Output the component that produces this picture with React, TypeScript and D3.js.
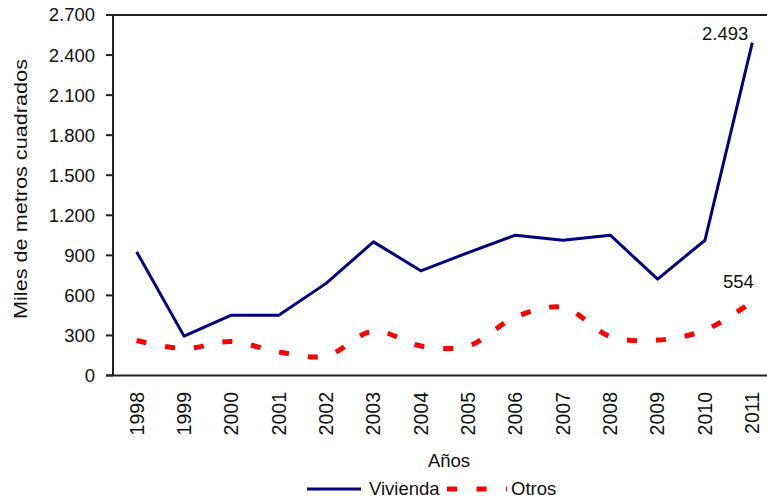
import React from "react";
import * as d3 from "d3";

const years = ["1998","1999","2000","2001","2002","2003","2004","2005","2006","2007","2008","2009","2010","2011"];
const vivienda = [926, 295, 452, 452, 690, 1001, 784, 920, 1051, 1013, 1051, 722, 1013, 2493];
const otros = [262, 202, 254, 176, 146, 333, 221, 221, 438, 510, 292, 265, 340, 554];
const yTicks = [0, 300, 600, 900, 1200, 1500, 1800, 2100, 2400, 2700];

const W = 767, H = 499;
const FONT = "'Liberation Sans', Arial, sans-serif";
const FS = 18.5;

const locale = d3.formatLocale({ decimal: ",", thousands: ".", grouping: [3], currency: ["", ""] });
const fmt = locale.format(",d");

export default function App() {
  const x = d3.scaleBand<string>().domain(years).range([113, 776]).padding(0);
  const cx = (y: string) => (x(y) as number) + x.bandwidth() / 2;
  const y = d3.scaleLinear().domain([0, 2700]).range([375.5, 15]);

  const vivLine = d3.line<number>().x((_, i) => cx(years[i])).y((d) => y(d));
  const otrLine = d3.line<number>().x((_, i) => cx(years[i])).y((d) => y(d)).curve(d3.curveCatmullRom.alpha(0.5));

  const lastI = years.length - 1;
  const axisColor = "#222";

  return (
    <svg width={W} height={H} style={{ position: "absolute", left: 0, top: 0, background: "#fff" }} fontFamily={FONT}>
      {/* plot frame */}
      <line x1={113} x2={W} y1={y(2700)} y2={y(2700)} stroke={axisColor} strokeWidth={2} />
      <line x1={113} x2={113} y1={y(2700)} y2={y(0)} stroke={axisColor} strokeWidth={2} />
      <line x1={106} x2={W} y1={y(0)} y2={y(0)} stroke={axisColor} strokeWidth={2} />
      {/* y ticks */}
      {yTicks.map((t) => (
        <g key={t}>
          <line x1={106} x2={113} y1={y(t)} y2={y(t)} stroke={axisColor} strokeWidth={2} />
          <text x={95} y={y(t)} dy="0.35em" textAnchor="end" fontSize={FS} fill="#111">{fmt(t)}</text>
        </g>
      ))}
      {/* x labels */}
      {years.map((yr) => (
        <text key={yr} transform={`translate(${cx(yr)},392) rotate(-90)`} dy="0.35em" textAnchor="end" fontSize={19.5} fill="#111">{yr}</text>
      ))}
      {/* axis titles */}
      <text transform={`translate(27,189) rotate(-90)`} textAnchor="middle" fontSize={FS} fill="#111" textLength={260} lengthAdjust="spacingAndGlyphs">Miles de metros cuadrados</text>
      <text x={449} y={467} textAnchor="middle" fontSize={FS} fill="#111">Años</text>
      {/* series */}
      <path d={otrLine(otros) || ""} fill="none" stroke="#ff0000" strokeWidth={5} strokeDasharray="10,19" />
      <path d={vivLine(vivienda) || ""} fill="none" stroke="#000080" strokeWidth={3} strokeLinejoin="round" />
      {/* data labels */}
      <text x={cx(years[lastI]) - 4} y={y(vivienda[lastI]) - 3} textAnchor="end" fontSize={FS} fill="#111">{fmt(vivienda[lastI])}</text>
      <text x={cx(years[lastI]) - 14} y={y(otros[lastI]) - 14} textAnchor="middle" fontSize={FS} fill="#111">{fmt(otros[lastI])}</text>
      {/* legend */}
      <line x1={307} x2={361} y1={489} y2={489} stroke="#000080" strokeWidth={3} />
      <text x={369} y={489} dy="0.35em" fontSize={FS} fill="#111">Vivienda</text>
      <line x1={447} x2={507} y1={489} y2={489} stroke="#ff0000" strokeWidth={5} strokeDasharray="10,19.5" />
      <text x={511} y={489} dy="0.35em" fontSize={FS} fill="#111">Otros</text>
    </svg>
  );
}
